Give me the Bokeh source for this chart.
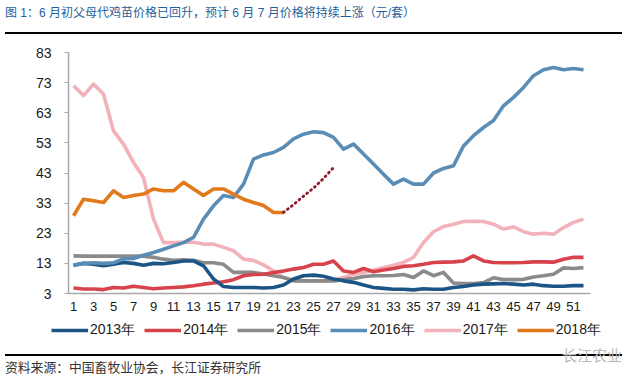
from bokeh.plotting import figure
from bokeh.models import Range1d, FixedTicker, Legend, LegendItem, Div
from bokeh.layouts import column, row
from bokeh.embed import file_html
from bokeh.resources import INLINE

# ---------------- data ----------------
weeks = list(range(1, 53))
week_ticks = list(range(1, 52, 2))
y_ticks = [3, 13, 23, 33, 43, 53, 63, 73, 83]

y2013 = [12.4, 13.0, 12.7, 12.2, 12.7, 13.3, 13.0, 12.4, 13.0, 12.9, 13.3, 13.8, 13.8, 12.2, 7.8, 5.3,
         5.0, 5.0, 5.0, 4.8, 5.0, 5.8, 7.8, 8.9, 9.1, 8.7, 7.8, 7.2, 6.7, 5.8, 5.0, 4.7, 4.4, 4.4,
         4.2, 4.6, 4.4, 4.4, 5.0, 5.3, 5.8, 6.1, 6.2, 6.3, 6.1, 5.8, 6.1, 5.6, 5.4, 5.4, 5.6, 5.6]
y2014 = [4.8, 4.5, 4.5, 4.3, 5.0, 4.8, 5.4, 5.0, 4.6, 4.8, 5.0, 5.2, 5.6, 6.1, 6.5, 6.9,
         7.6, 8.9, 9.3, 9.4, 10.0, 10.5, 11.1, 11.6, 12.7, 12.7, 13.8, 10.5, 10.0, 11.3, 10.2, 10.8,
         11.3, 12.0, 12.2, 12.7, 13.3, 13.4, 13.5, 13.8, 15.5, 13.8, 13.3, 13.2, 13.2, 13.3, 13.5,
         13.5, 13.4, 14.4, 15.0, 15.0]
y2015 = [15.5, 15.4, 15.4, 15.4, 15.4, 15.4, 15.4, 15.4, 15.0, 14.4, 14.0, 14.2, 14.0, 13.2, 13.2, 12.7,
         10.0, 10.0, 10.0, 9.5, 8.9, 8.3, 7.2, 7.2, 7.2, 7.2, 7.2, 7.6, 8.0, 8.6, 8.9, 8.9, 9.0, 9.3,
         8.3, 10.5, 8.9, 10.0, 6.5, 6.3, 6.3, 6.6, 8.2, 7.6, 7.6, 7.7, 8.5, 8.9, 9.4, 11.5, 11.3, 11.6]
y2016 = [12.4, 13.0, 13.2, 13.0, 13.2, 14.5, 14.6, 15.7, 16.6, 17.7, 18.8, 19.9, 21.6, 27.7, 32.1, 35.5,
         34.9, 39.3, 47.6, 49.0, 49.8, 51.5, 54.3, 55.9, 56.7, 56.4, 54.8, 50.9, 52.6, 49.3, 46.0, 42.6,
         39.3, 41.0, 39.3, 39.3, 43.0, 44.5, 45.4, 52.0, 55.4, 58.1, 60.4, 65.3, 68.1, 71.4, 75.3, 77.3,
         78.0, 77.3, 77.7, 77.3]
y2017 = [72.0, 68.7, 72.5, 69.2, 57.0, 52.6, 46.5, 41.5, 27.7, 19.9, 19.9, 20.0, 20.0, 19.4, 19.4, 18.3,
         17.2, 14.4, 14.0, 12.5, 10.5, 8.3, 7.5, 7.2, 7.1, 7.1, 7.5, 8.3, 9.4, 10.0, 10.7, 11.6, 12.4,
         13.3, 15.0, 19.9, 23.5, 25.2, 26.0, 26.9, 27.0, 26.9, 26.0, 24.4, 25.1, 23.5, 22.7, 23.0, 22.7,
         24.9, 26.6, 27.7]
weeks2018 = list(range(1, 23))
y2018 = [28.8, 34.3, 33.8, 33.2, 37.1, 34.9, 35.5, 36.0, 37.7, 37.1, 37.1, 39.9, 37.7, 35.5, 37.7, 37.7,
         36.0, 34.3, 33.2, 32.2, 29.9, 29.9]
weeks_forecast = [22, 23, 24, 25, 26, 27]
y_forecast = [29.9, 32.5, 35.3, 38.0, 41.2, 44.8]

series_labels = ["2013年", "2014年", "2015年", "2016年", "2017年", "2018年"]
title_text = "图 1：6 月初父母代鸡苗价格已回升，预计 6 月 7 月价格将持续上涨（元/套）"
source_text = "资料来源：中国畜牧业协会，长江证券研究所"
logo_text = "长江农业"

# ---------------- styles ----------------
colors = {
    "2013年": "#1c5585",
    "2014年": "#d8434b",
    "2015年": "#8a8a8a",
    "2016年": "#5a8db6",
    "2017年": "#f3b2ba",
    "2018年": "#e27a1c",
}
FONT = "Liberation Sans"
CSS_FONT = "'Liberation Sans', 'Noto Sans CJK SC', sans-serif"
LW = 3.6
W = 617

title_div = Div(
    width=W, height=29,
    text=(f'<div style="position:relative;width:{W}px;height:29px;">'
          f'<div style="position:absolute;left:0;top:1px;font-family:{CSS_FONT};font-size:12px;'
          f'line-height:14px;color:#1f5f9c;white-space:nowrap;">{title_text}</div>'
          f'<div style="position:absolute;left:0;top:27px;width:{W}px;height:2px;background:#000;"></div>'
          f'</div>'),
)

p = figure(width=W, height=280, output_backend="svg", toolbar_location=None,
           x_range=Range1d(0.5, 52.7), y_range=Range1d(3, 83),
           min_border_left=68, min_border_right=27, min_border_top=13, min_border_bottom=26)
p.outline_line_color = None
p.grid.visible = False
p.background_fill_color = "white"
p.border_fill_color = "white"

# axes
p.xaxis.ticker = FixedTicker(ticks=week_ticks)
p.xaxis.major_tick_line_color = None
p.xaxis.minor_tick_line_color = None
p.xaxis.major_tick_out = 0
p.xaxis.major_tick_in = 0
p.xaxis.axis_line_color = "#a8a8a8"
p.xaxis.axis_line_width = 1.5
p.xaxis.major_label_text_font = FONT
p.xaxis.major_label_text_font_size = "13px"
p.xaxis.major_label_text_color = "#1a1a1a"
p.xaxis.major_label_standoff = 8

p.yaxis.ticker = FixedTicker(ticks=y_ticks)
p.yaxis.minor_tick_line_color = None
p.yaxis.major_tick_out = 4
p.yaxis.major_tick_in = 0
p.yaxis.major_tick_line_color = "#a8a8a8"
p.yaxis.major_tick_line_width = 1.2
p.yaxis.axis_line_color = "#a8a8a8"
p.yaxis.axis_line_width = 1.5
p.yaxis.major_label_text_font = FONT
p.yaxis.major_label_text_font_size = "14px"
p.yaxis.major_label_text_color = "#1a1a1a"
p.yaxis.major_label_standoff = 13

series = {
    "2013年": (weeks, y2013),
    "2014年": (weeks, y2014),
    "2015年": (weeks, y2015),
    "2016年": (weeks, y2016),
    "2017年": (weeks, y2017),
    "2018年": (weeks2018, y2018),
}
draw_order = ["2017年", "2015年", "2014年", "2013年", "2016年", "2018年"]
for lab in draw_order:
    xs, ys = series[lab]
    p.line(xs, ys, line_width=LW, color=colors[lab], line_join="round")
p.line(weeks_forecast, y_forecast, line_width=2.8, color="#8b1a2b", line_dash="1 4", line_cap="round")

# legend strip: a separate, axis-less figure holding the same series
# (its ranges keep the lines out of view, so only the legend shows)
lf = figure(frame_width=W, frame_height=30, output_backend="svg", toolbar_location=None,
            x_range=Range1d(-20, -10), y_range=Range1d(-20, -10),
            x_axis_type=None, y_axis_type=None,
            min_border_left=0, min_border_right=0, min_border_top=0, min_border_bottom=0)
lf.outline_line_color = None
lf.grid.visible = False
lf.background_fill_color = "white"
lf.border_fill_color = "white"
items = []
for lab in series_labels:
    xs, ys = series[lab]
    r = lf.line(xs, ys, line_width=LW, color=colors[lab])
    items.append(LegendItem(label=lab, renderers=[r]))
legend = Legend(items=items, orientation="horizontal", location=(51, 10),
                glyph_width=37, glyph_height=16, label_standoff=2, spacing=9,
                padding=0, margin=0, border_line_color=None, background_fill_alpha=0,
                label_text_font=FONT, label_text_font_size="14px", label_text_color="#1a1a1a")
lf.add_layout(legend)

source_div = Div(
    width=W, height=30,
    text=(f'<div style="position:relative;width:{W}px;height:30px;">'
          f'<div style="position:absolute;left:0;top:0;width:{W}px;height:1.5px;background:#000;"></div>'
          f'<div style="position:absolute;left:0;top:7px;font-family:{CSS_FONT};font-size:12.8px;'
          f'line-height:14px;color:#333;white-space:nowrap;">{source_text}</div>'
          f'<div style="position:absolute;left:557px;top:-6px;font-family:{CSS_FONT};font-size:15px;'
          f'line-height:16px;color:#b8b8b8;white-space:nowrap;">{logo_text}</div>'
          f'</div>'),
)

layout = column(title_div, p, row(lf), source_div, spacing=0)

open("out.html", "w").write(file_html(layout, INLINE))
